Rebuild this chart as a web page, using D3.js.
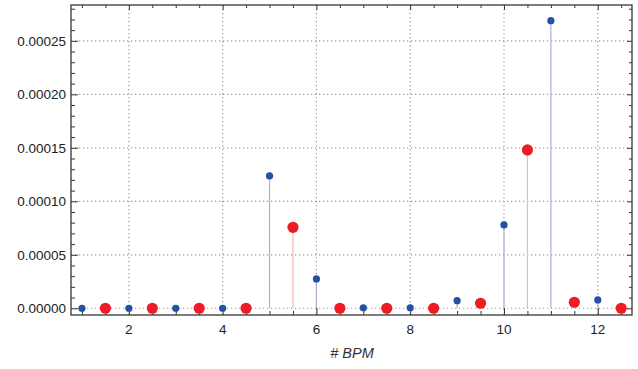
<!DOCTYPE html>
<html><head><meta charset="utf-8">
<script src="https://cdn.jsdelivr.net/npm/d3@7"></script>
<style>body{margin:0;background:#fff}svg{display:block}text{font-family:"Liberation Sans",Arial,sans-serif}</style>
</head><body><svg id="c" width="638" height="369"></svg>
<script>
const blueX = [1,2,3,4,5,6,7,8,9,10,11,12];
const blueY = [0,0,0,0,0.0001237,0.0000274,0.0000005,0.0000005,0.0000071,0.0000779,0.0002688,0.0000078];
const redX = [1.5,2.5,3.5,4.5,5.5,6.5,7.5,8.5,9.5,10.5,11.5,12.5];
const redY = [0,0,0,0,0.0000757,0,0,0,0.0000047,0.000148,0.0000056,0];
const xTicks = [2,4,6,8,10,12];
const yTicks = [0,0.00005,0.0001,0.00015,0.0002,0.00025];
const xLabel = "# BPM";

const svg = d3.select("#c");
const L=71, R=632, T=5, B=315;
const x = d3.scaleLinear().domain([0.766,12.73]).range([L,R]);
const y = d3.scaleLinear().domain([-0.0000063,0.0002835]).range([B,T]);
const fmt = d3.format(".5f");

// grid
const g = svg.append("g");
g.selectAll(".gx").data(xTicks).join("line")
  .attr("x1",d=>x(d)).attr("x2",d=>x(d)).attr("y1",T).attr("y2",B)
  .attr("stroke","#999").attr("stroke-width",1.2).attr("stroke-dasharray","1.2,2.8");
g.selectAll(".gy").data(yTicks).join("line")
  .attr("y1",d=>y(d)).attr("y2",d=>y(d)).attr("x1",L).attr("x2",R)
  .attr("stroke","#999").attr("stroke-width",1.2).attr("stroke-dasharray","1.2,2.8");

// stems
svg.append("g").selectAll("line").data(blueX.map((d,i)=>[d,blueY[i]])).join("line")
  .attr("x1",d=>x(d[0])).attr("x2",d=>x(d[0])).attr("y1",y(0)).attr("y2",d=>y(d[1]))
  .attr("stroke","#aab0de").attr("stroke-width",1.2);
svg.append("g").selectAll("line").data(redX.map((d,i)=>[d,redY[i]])).join("line")
  .attr("x1",d=>x(d[0])).attr("x2",d=>x(d[0])).attr("y1",y(0)).attr("y2",d=>y(d[1]))
  .attr("stroke","#f6b8a8").attr("stroke-width",1.2);

// axes (frame)
const minorX = d3.range(1,12.75,0.5);
const minorY = d3.range(0,0.000281,0.00001);
function ax(axisGen, tr){
  const a = svg.append("g").attr("transform",tr).call(axisGen);
  a.select(".domain").remove();
  a.selectAll("line").attr("stroke","#333").attr("stroke-width",1);
  return a;
}
// bottom minor + major
ax(d3.axisTop(x).tickValues(minorX.filter(v=>!xTicks.includes(v))).tickSize(4).tickFormat(""),`translate(0,${B})`);
const bx = ax(d3.axisTop(x).tickValues(xTicks).tickSize(7).tickFormat(""),`translate(0,${B})`);
svg.append("g").selectAll("text").data(xTicks).join("text")
  .attr("x",d=>x(d)).attr("y",B+19).attr("text-anchor","middle").attr("font-size",13.5).attr("fill","#222").text(d=>d);
// top
ax(d3.axisBottom(x).tickValues(minorX.filter(v=>!xTicks.includes(v))).tickSize(3).tickFormat(""),`translate(0,${T})`);
ax(d3.axisBottom(x).tickValues(xTicks).tickSize(5).tickFormat(""),`translate(0,${T})`);
// left
ax(d3.axisRight(y).tickValues(minorY.filter(v=>!yTicks.some(t=>Math.abs(t-v)<1e-9))).tickSize(4).tickFormat(""),`translate(${L},0)`);
ax(d3.axisRight(y).tickValues(yTicks).tickSize(7).tickFormat(""),`translate(${L},0)`);
svg.append("g").selectAll("text").data(yTicks).join("text")
  .attr("x",L-5).attr("y",d=>y(d)+5).attr("text-anchor","end").attr("font-size",13.5).attr("fill","#222").text(d=>fmt(d));
// right
ax(d3.axisLeft(y).tickValues(minorY.filter(v=>!yTicks.some(t=>Math.abs(t-v)<1e-9))).tickSize(3).tickFormat(""),`translate(${R},0)`);
ax(d3.axisLeft(y).tickValues(yTicks).tickSize(5).tickFormat(""),`translate(${R},0)`);

// frame
svg.append("rect").attr("x",L).attr("y",T).attr("width",R-L).attr("height",B-T)
  .attr("fill","none").attr("stroke","#444").attr("stroke-width",1.4);

// points
svg.append("g").selectAll("circle").data(redX.map((d,i)=>[d,redY[i]])).join("circle")
  .attr("cx",d=>x(d[0])).attr("cy",d=>y(d[1])).attr("r",5.6).attr("fill","#ee1c25");
svg.append("g").selectAll("circle").data(blueX.map((d,i)=>[d,blueY[i]])).join("circle")
  .attr("cx",d=>x(d[0])).attr("cy",d=>y(d[1])).attr("r",3.6).attr("fill","#2152a3");

svg.append("text").attr("x",352).attr("y",358).attr("text-anchor","middle")
  .attr("font-size",14.5).attr("font-style","italic").attr("fill","#333").text(xLabel);
</script></body></html>
